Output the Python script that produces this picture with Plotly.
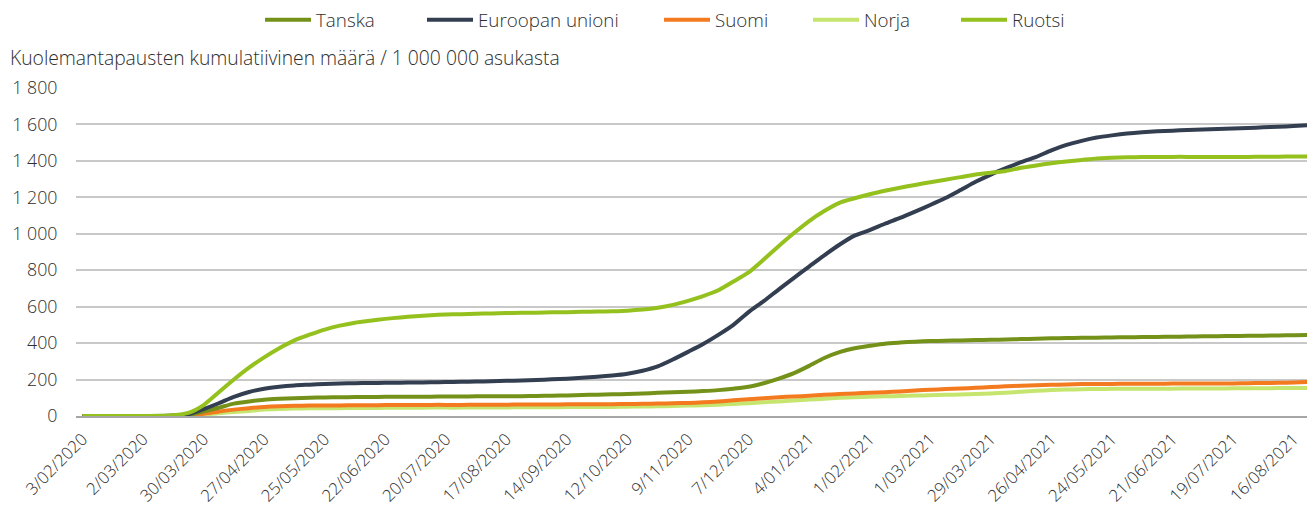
import datetime as dt
import plotly.graph_objects as go

# ---- data (weekly, starting 3/02/2020) ----
start = dt.date(2020, 2, 3)
n_weeks = 82
dates = [start + dt.timedelta(weeks=i) for i in range(n_weeks)]

tanska = [0, 0, 0, 0, 0, 0, 1, 5, 25, 45, 68, 80, 89, 94, 98, 100, 102, 103, 104, 104,
          105, 105, 106, 106, 107, 107, 108, 108, 109, 109, 110, 111, 113, 115, 117, 119, 121, 124, 127, 130,
          133, 137, 142, 150, 160, 180, 205, 235, 275, 318, 350, 372, 385, 397, 403, 408, 411, 413, 415, 417,
          418, 420, 422, 424, 426, 428, 429, 430, 431, 432, 433, 434, 435, 436, 437, 438, 439, 440, 441, 442,
          443, 444]

eu = [0, 0, 0, 0, 0, 0.5, 3, 10, 38, 70, 105, 132, 150, 161, 168, 172, 176, 178, 180, 181,
      182, 183, 184, 185, 186, 188, 189, 191, 193, 195, 198, 201, 205, 210, 215, 222, 232, 248, 272, 310,
      352, 395, 445, 500, 570, 630, 695, 758, 820, 882, 940, 990, 1020, 1055, 1087, 1122, 1158, 1196, 1240, 1285,
      1325, 1360, 1393, 1422, 1458, 1488, 1510, 1528, 1540, 1550, 1557, 1562, 1566, 1569, 1572, 1575, 1578, 1581, 1584, 1587,
      1591, 1596]

suomi = [0, 0, 0, 0, 0, 0, 0, 3, 12, 25, 35, 43, 50, 54, 56, 57, 58, 58, 59, 59,
         60, 60, 60, 61, 61, 61, 62, 62, 62, 63, 63, 63, 64, 64, 65, 65, 66, 67, 68, 70,
         72, 75, 80, 86, 92, 98, 103, 107, 111, 116, 121, 124, 128, 131, 135, 140, 144, 148, 151, 155,
         159, 163, 166, 169, 171, 173, 175, 176, 176, 177, 177, 177, 178, 178, 178, 179, 179, 180, 181, 182,
         184, 187]

norja = [0, 0, 0, 0, 0, 0, 0, 2, 7, 15, 22, 28, 35, 39, 41, 42, 43, 43, 44, 44,
         45, 45, 45, 46, 46, 46, 47, 47, 47, 48, 48, 48, 49, 49, 50, 50, 51, 52, 53, 55,
         57, 59, 62, 66, 70, 75, 80, 85, 90, 95, 100, 103, 106, 108, 110, 112, 114, 116, 118, 121,
         124, 128, 133, 138, 142, 145, 147, 148, 149, 149, 150, 150, 150, 151, 151, 151, 152, 152, 152, 153,
         153, 154]

ruotsi = [0, 0, 0, 0, 0, 1, 4, 17, 60, 130, 200, 265, 322, 372, 415, 446, 474, 496, 512, 523,
          533, 541, 548, 553, 557, 559, 561, 563, 565, 566, 567, 569, 570, 572, 573, 575, 578, 584, 594, 610,
          632, 658, 690, 738, 788, 859, 933, 1004, 1070, 1125, 1170, 1195, 1217, 1236, 1253, 1268, 1283, 1297, 1311, 1325,
          1335, 1345, 1362, 1375, 1387, 1397, 1405, 1413, 1417, 1420, 1421, 1421, 1422, 1422, 1422, 1422, 1422, 1422, 1423, 1423,
          1424, 1424]

series_names = ["Tanska", "Euroopan unioni", "Suomi", "Norja", "Ruotsi"]
series_values = [tanska, eu, suomi, norja, ruotsi]
series_colors = ["#74921a", "#333f50", "#f47a20", "#c6e56e", "#95c11f"]

# tick labels every 4 weeks
tick_dates = [start + dt.timedelta(days=28 * k) for k in range(21)]
tick_text = [f"{d.day}/{d.month:02d}/{d.year}" for d in tick_dates]

y_title = "Kuolemantapausten kumulatiivinen määrä / 1 000 000 asukasta"

FONT = "Open Sans"
TXT = "#2e2e2e"
WEIGHT = 300
PAGE_OFF = 8                      # default body margin of the html page
W, H = 1315 - PAGE_OFF, 509 - PAGE_OFF
ML, MR, MT, MB = 68, 2, 80, 93

# legend swatch positions in the window (px from left)
legend_px = [264, 426, 663, 812, 960]
legend_ids = ["legend", "legend2", "legend3", "legend4", "legend5"]

fig = go.Figure()
order = [3, 2, 0, 1, 4]
for idx in order:
    fig.add_trace(go.Scatter(
        x=dates, y=series_values[idx], name=series_names[idx], mode="lines",
        line=dict(color=series_colors[idx], width=4, shape="spline", smoothing=0.6),
        legend=legend_ids[idx],
    ))

legends = {}
for idx, lid in enumerate(legend_ids):
    legends[lid] = dict(
        orientation="h", xref="container", yref="container",
        x=(legend_px[idx] - PAGE_OFF - 4) / W, xanchor="left",
        y=1 - (20 - PAGE_OFF) / H, yanchor="middle",
        itemwidth=46,
        font=dict(family=FONT, size=18.8, color=TXT, weight=WEIGHT), bgcolor="rgba(0,0,0,0)",
    )

fig.update_layout(
    width=W, height=H,
    margin=dict(l=ML, r=MR, t=MT, b=MB),
    paper_bgcolor="white", plot_bgcolor="white",
    separators=", ",
    font=dict(family=FONT, size=17, color=TXT, weight=WEIGHT),
    showlegend=True,
    xaxis=dict(
        type="date", automargin=False,
        range=[start - dt.timedelta(days=3.5), dates[-1] + dt.timedelta(days=2.5)],
        tickvals=tick_dates, ticktext=tick_text, tickangle=-45,
        showgrid=False, zeroline=False,
        showline=True, linecolor="#a6a6a6", linewidth=1.5,
        ticks="outside", ticklen=5, tickcolor="rgba(0,0,0,0)",
        tickfont=dict(family=FONT, size=16.8, color=TXT, weight=WEIGHT),
    ),
    yaxis=dict(
        range=[0, 1800], dtick=200, tickformat=",d", automargin=False,
        showgrid=True, gridcolor="#c8c8c8", gridwidth=1.5,
        zeroline=False, showline=False,
        ticks="outside", ticklen=14, tickcolor="rgba(0,0,0,0)",
        tickfont=dict(family=FONT, size=17.8, color=TXT, weight=WEIGHT),
    ),
    annotations=[dict(
        text=y_title, xref="paper", yref="paper", x=0, y=1,
        xanchor="left", yanchor="middle", xshift=-ML, yshift=MT - (57 - PAGE_OFF),
        showarrow=False, font=dict(family=FONT, size=19.3, color=TXT, weight=WEIGHT),
    )],
    **legends,
)

fig.write_html("out.html")
